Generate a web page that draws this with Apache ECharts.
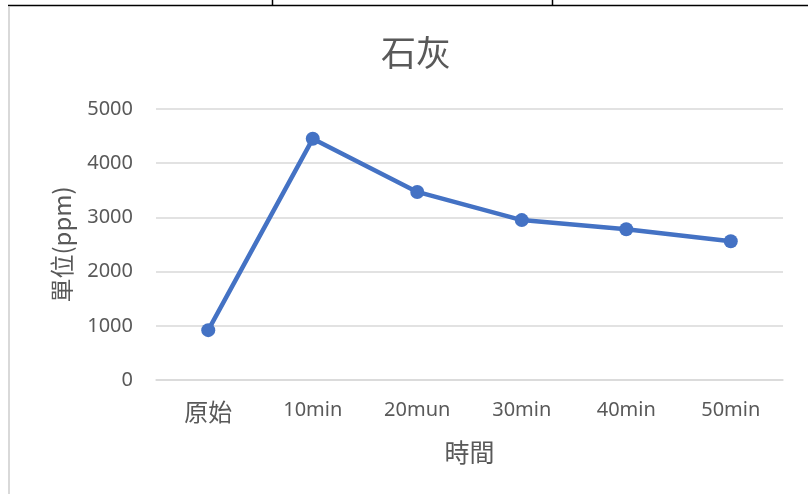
<!DOCTYPE html>
<html>
<head>
<meta charset="utf-8">
<script src="https://cdn.jsdelivr.net/npm/echarts@6/dist/echarts.min.js"></script>
<style>
  html, body { margin: 0; padding: 0; background: #fff; }
  #main { width: 808px; height: 494px; }
</style>
</head>
<body>
<div id="main"></div>
<script>
var categories = ['原始', '10min', '20mun', '30min', '40min', '50min'];
var values = [920, 4450, 3470, 2950, 2780, 2560];
var yTicks = [0, 1000, 2000, 3000, 4000, 5000];

var textColor = '#595959';
var fontFam = '"Noto Sans", "Noto Sans CJK TC", sans-serif';
var cjkFam = '"Noto Sans CJK TC", sans-serif';

var myChart = echarts.init(document.getElementById('main'));
var option = {
  backgroundColor: '#fff',
  title: {
    text: '石灰',
    left: 411,
    top: 30,
    textAlign: 'center',
    textStyle: {
      fontSize: 35,
      fontWeight: 'normal',
      color: textColor,
      fontFamily: cjkFam
    }
  },
  grid: {
    left: 156,
    right: 25,
    top: 109,
    bottom: 114
  },
  xAxis: {
    type: 'category',
    data: categories,
    name: '時間',
    nameLocation: 'middle',
    nameGap: 60,
    nameTextStyle: {
      fontSize: 25,
      color: textColor,
      fontFamily: cjkFam
    },
    axisLine: { lineStyle: { color: '#d9d9d9', width: 1.5 } },
    axisTick: { show: false },
    axisLabel: {
      interval: 0,
      fontSize: 20,
      color: textColor,
      margin: 20,
      fontFamily: fontFam,
      formatter: function (v) {
        return /[\u4e00-\u9fff]/.test(v) ? '{cjk|' + v + '}' : '{lat|' + v + '}';
      },
      rich: {
        cjk: { fontSize: 24, color: textColor, fontFamily: cjkFam },
        lat: { fontSize: 20, color: textColor, fontFamily: fontFam }
      }
    }
  },
  yAxis: {
    type: 'value',
    min: yTicks[0],
    max: yTicks[yTicks.length - 1],
    interval: 1000,
    name: '單位(ppm)',
    nameLocation: 'middle',
    nameGap: 82,
    nameTextStyle: {
      fontSize: 24,
      color: textColor,
      fontFamily: cjkFam
    },
    axisLine: { show: false },
    axisTick: { show: false },
    splitLine: { lineStyle: { color: '#d9d9d9', width: 1.5 } },
    axisLabel: {
      fontSize: 20,
      color: textColor,
      margin: 23,
      fontFamily: fontFam,
      formatter: function (v) { return String(v); }
    }
  },
  series: [
    {
      type: 'line',
      data: values,
      symbol: 'circle',
      symbolSize: 14,
      lineStyle: { color: '#4472C4', width: 4.5 },
      itemStyle: { color: '#4472C4' },
      animation: false
    }
  ],
  graphic: [
    { type: 'line', shape: { x1: 8, y1: 5.5, x2: 808, y2: 5.5 }, style: { stroke: '#000', lineWidth: 1.5 } },
    { type: 'line', shape: { x1: 272.5, y1: 0, x2: 272.5, y2: 6 }, style: { stroke: '#000', lineWidth: 1.5 } },
    { type: 'line', shape: { x1: 552.5, y1: 0, x2: 552.5, y2: 6 }, style: { stroke: '#000', lineWidth: 1.5 } },
    { type: 'line', shape: { x1: 9, y1: 7, x2: 9, y2: 494 }, style: { stroke: '#d9d9d9', lineWidth: 2 } }
  ]
};
myChart.setOption(option);
</script>
</body>
</html>
